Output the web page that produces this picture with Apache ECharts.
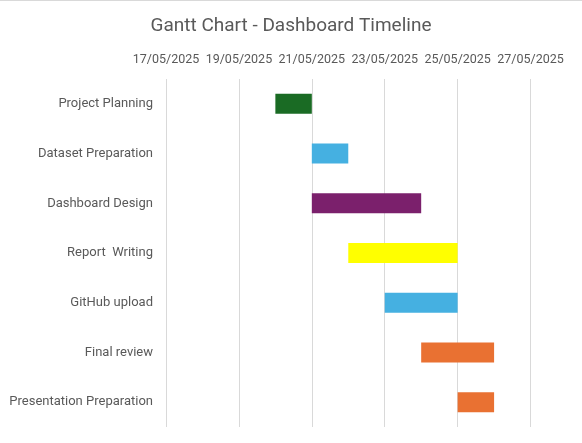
<!DOCTYPE html>
<html><head><meta charset="utf-8">
<script src="https://cdn.jsdelivr.net/npm/echarts@6/dist/echarts.min.js"></script>
<style>html,body{margin:0;padding:0;background:#fff}#c{width:582px;height:443px}</style>
</head><body><div id="c"></div>
<script>
const tasks = ['Project Planning','Dataset Preparation','Dashboard Design','Report  Writing','GitHub upload','Final review','Presentation Preparation'];
const startDates = ['2025-05-20','2025-05-21','2025-05-21','2025-05-22','2025-05-23','2025-05-24','2025-05-25'];
const durations = [1,1,3,3,2,2,1];
const colors = ['#1A6B24','#45B0E1','#7B206C','#FFFF00','#45B0E1','#E97132','#E97132'];
const axisStart = '2025-05-17';
const axisEnd = '2025-05-28';

const DAY = 86400000;
const base = Date.parse(axisStart);
const toDay = s => Math.round((Date.parse(s) - base) / DAY);
const offsets = startDates.map(toDay);
const pad = n => (n < 10 ? '0' : '') + n;
const fmt = v => { const d = new Date(base + v * DAY); return pad(d.getUTCDate()) + '/' + pad(d.getUTCMonth() + 1) + '/' + d.getUTCFullYear(); };

const chart = echarts.init(document.getElementById('c'));
const font = 'Roboto';
chart.setOption({
  animation: false,
  graphic: [{ type: 'rect', left: 0, top: 0, shape: { width: 582, height: 1 }, style: { fill: '#D9D9D9' }, silent: true }],
  title: { text: 'Gantt Chart - Dashboard Timeline', left: 'center', top: 12,
    textStyle: { fontFamily: font, fontSize: 19, fontWeight: 'normal', color: '#595959' } },
  grid: { left: 166, right: 15, top: 79, bottom: 16, containLabel: false },
  xAxis: { type: 'value', position: 'top', min: 0, max: toDay(axisEnd), interval: 2,
    axisLine: { show: false }, axisTick: { show: false },
    splitLine: { show: true, lineStyle: { color: ['#D9D9D9','#D9D9D9','#D9D9D9','#D9D9D9','#D9D9D9','#D9D9D9','rgba(0,0,0,0)'], width: 1 } },
    axisLabel: { formatter: v => v % 2 === 0 && v <= 10 ? fmt(v) : '', fontFamily: font, fontSize: 12.5, color: '#595959', margin: 13 } },
  yAxis: { type: 'category', inverse: true, data: tasks,
    axisLine: { show: false }, axisTick: { show: false },
    axisLabel: { fontFamily: font, fontSize: 13, color: '#595959', margin: 13 } },
  series: [
    { type: 'bar', stack: 'g', data: offsets, itemStyle: { color: 'transparent' }, barWidth: 20, silent: true },
    { type: 'bar', stack: 'g', barWidth: 20,
      data: durations.map((d, i) => ({ value: d, itemStyle: { color: colors[i] } })) }
  ]
});
</script></body></html>
